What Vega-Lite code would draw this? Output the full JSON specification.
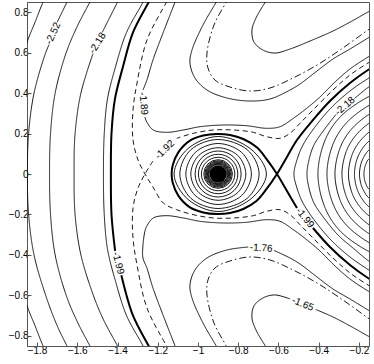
{
"$schema":"https://vega.github.io/schema/vega-lite/v6.json",
"width":342,"height":344,"autosize":"none",
"padding":{"left":27,"top":2,"right":5,"bottom":18},
"background":"white",
"config":{"view":{"stroke":"#555","strokeWidth":1},
"axis":{"grid":false,"domainColor":"#555","tickColor":"#555","labelColor":"#000","labelFont":"Liberation Sans","labelFontSize":10,"tickSize":-4,"labelPadding":3,"title":null}},
"datasets":{
"lines":[
{"k":"a1","c":"n","o":1,"x":-1.745,"y":0.9},{"k":"a1","c":"n","o":2,"x":-1.77,"y":0.85},{"k":"a1","c":"n","o":3,"x":-1.81,"y":0.75},{"k":"a1","c":"n","o":4,"x":-1.85,"y":0.65},{"k":"a1","c":"n","o":5,"x":-1.875,"y":0.55},{"k":"a1","c":"n","o":6,"x":-1.92,"y":0.3},{"k":"a1","c":"n","o":7,"x":-1.935,"y":0},{"k":"a1","c":"n","o":8,"x":-1.92,"y":-0.3},{"k":"a1","c":"n","o":9,"x":-1.875,"y":-0.55},{"k":"a1","c":"n","o":10,"x":-1.85,"y":-0.65},{"k":"a1","c":"n","o":11,"x":-1.81,"y":-0.75},{"k":"a1","c":"n","o":12,"x":-1.77,"y":-0.85},{"k":"a1","c":"n","o":13,"x":-1.745,"y":-0.9},
{"k":"a2b","c":"n","o":1,"x":-1.625,"y":0.9},{"k":"a2b","c":"n","o":2,"x":-1.651,"y":0.85},{"k":"a2b","c":"n","o":3,"x":-1.7,"y":0.75},
{"k":"a2a","c":"n","o":1,"x":-1.74,"y":0.64},{"k":"a2a","c":"n","o":2,"x":-1.757,"y":0.6},{"k":"a2a","c":"n","o":3,"x":-1.815,"y":0.4},{"k":"a2a","c":"n","o":4,"x":-1.842,"y":0.2},{"k":"a2a","c":"n","o":5,"x":-1.848,"y":0},{"k":"a2a","c":"n","o":6,"x":-1.842,"y":-0.2},{"k":"a2a","c":"n","o":7,"x":-1.815,"y":-0.4},{"k":"a2a","c":"n","o":8,"x":-1.757,"y":-0.6},{"k":"a2a","c":"n","o":9,"x":-1.7,"y":-0.75},{"k":"a2a","c":"n","o":10,"x":-1.651,"y":-0.85},{"k":"a2a","c":"n","o":11,"x":-1.625,"y":-0.9},
{"k":"a3","c":"n","o":1,"x":-1.51,"y":0.9},{"k":"a3","c":"n","o":2,"x":-1.537,"y":0.85},{"k":"a3","c":"n","o":3,"x":-1.6,"y":0.73},{"k":"a3","c":"n","o":4,"x":-1.655,"y":0.6},{"k":"a3","c":"n","o":5,"x":-1.71,"y":0.4},{"k":"a3","c":"n","o":6,"x":-1.733,"y":0.2},{"k":"a3","c":"n","o":7,"x":-1.738,"y":0},{"k":"a3","c":"n","o":8,"x":-1.733,"y":-0.2},{"k":"a3","c":"n","o":9,"x":-1.71,"y":-0.4},{"k":"a3","c":"n","o":10,"x":-1.655,"y":-0.6},{"k":"a3","c":"n","o":11,"x":-1.6,"y":-0.73},{"k":"a3","c":"n","o":12,"x":-1.537,"y":-0.85},{"k":"a3","c":"n","o":13,"x":-1.51,"y":-0.9},
{"k":"a4b","c":"n","o":1,"x":-1.375,"y":0.9},{"k":"a4b","c":"n","o":2,"x":-1.4,"y":0.85},{"k":"a4b","c":"n","o":3,"x":-1.476,"y":0.7},
{"k":"a4a","c":"n","o":1,"x":-1.522,"y":0.595},{"k":"a4a","c":"n","o":2,"x":-1.582,"y":0.4},{"k":"a4a","c":"n","o":3,"x":-1.611,"y":0.2},{"k":"a4a","c":"n","o":4,"x":-1.616,"y":0},{"k":"a4a","c":"n","o":5,"x":-1.611,"y":-0.2},{"k":"a4a","c":"n","o":6,"x":-1.582,"y":-0.4},{"k":"a4a","c":"n","o":7,"x":-1.52,"y":-0.6},{"k":"a4a","c":"n","o":8,"x":-1.47,"y":-0.72},{"k":"a4a","c":"n","o":9,"x":-1.4,"y":-0.85},{"k":"a4a","c":"n","o":10,"x":-1.375,"y":-0.9},
{"k":"a5","c":"n","o":1,"x":-1.25,"y":0.9},{"k":"a5","c":"n","o":2,"x":-1.273,"y":0.85},{"k":"a5","c":"n","o":3,"x":-1.355,"y":0.7},{"k":"a5","c":"n","o":4,"x":-1.41,"y":0.53},{"k":"a5","c":"n","o":5,"x":-1.45,"y":0.37},{"k":"a5","c":"n","o":6,"x":-1.466,"y":0.2},{"k":"a5","c":"n","o":7,"x":-1.47,"y":0},{"k":"a5","c":"n","o":8,"x":-1.466,"y":-0.2},{"k":"a5","c":"n","o":9,"x":-1.45,"y":-0.37},{"k":"a5","c":"n","o":10,"x":-1.41,"y":-0.53},{"k":"a5","c":"n","o":11,"x":-1.355,"y":-0.7},{"k":"a5","c":"n","o":12,"x":-1.273,"y":-0.85},{"k":"a5","c":"n","o":13,"x":-1.25,"y":-0.9},
{"k":"hla","c":"h","o":1,"x":-1.22,"y":0.9},{"k":"hla","c":"h","o":2,"x":-1.245,"y":0.85},{"k":"hla","c":"h","o":3,"x":-1.323,"y":0.7},{"k":"hla","c":"h","o":4,"x":-1.373,"y":0.53},{"k":"hla","c":"h","o":5,"x":-1.413,"y":0.37},{"k":"hla","c":"h","o":6,"x":-1.43,"y":0.2},{"k":"hla","c":"h","o":7,"x":-1.433,"y":0},{"k":"hla","c":"h","o":8,"x":-1.43,"y":-0.2},{"k":"hla","c":"h","o":9,"x":-1.412,"y":-0.38},
{"k":"hlb","c":"h","o":1,"x":-1.381,"y":-0.5},{"k":"hlb","c":"h","o":2,"x":-1.323,"y":-0.7},{"k":"hlb","c":"h","o":3,"x":-1.245,"y":-0.85},{"k":"hlb","c":"h","o":4,"x":-1.22,"y":-0.9},
{"k":"h1","c":"h","o":1,"x":-0.1055,"y":0.5435},{"k":"h1","c":"h","o":2,"x":-0.1552,"y":0.5138},{"k":"h1","c":"h","o":3,"x":-0.2446,"y":0.4496},{"k":"h1","c":"h","o":4,"x":-0.344,"y":0.3607},{"k":"h1","c":"h","o":5,"x":-0.4285,"y":0.2668},{"k":"h1","c":"h","o":6,"x":-0.5081,"y":0.168},{"k":"h1","c":"h","o":7,"x":-0.5578,"y":0.084},{"k":"h1","c":"h","o":8,"x":-0.6075,"y":0},{"k":"h1","c":"h","o":9,"x":-0.659,"y":-0.074},{"k":"h1","c":"h","o":10,"x":-0.708,"y":-0.132},{"k":"h1","c":"h","o":11,"x":-0.775,"y":-0.173},{"k":"h1","c":"h","o":12,"x":-0.841,"y":-0.193},{"k":"h1","c":"h","o":13,"x":-0.907,"y":-0.198},{"k":"h1","c":"h","o":14,"x":-0.974,"y":-0.19},{"k":"h1","c":"h","o":15,"x":-1.04,"y":-0.165},{"k":"h1","c":"h","o":16,"x":-1.098,"y":-0.107},{"k":"h1","c":"h","o":17,"x":-1.126,"y":-0.042},{"k":"h1","c":"h","o":18,"x":-1.131,"y":0},{"k":"h1","c":"h","o":19,"x":-1.126,"y":0.042},{"k":"h1","c":"h","o":20,"x":-1.098,"y":0.107},{"k":"h1","c":"h","o":21,"x":-1.04,"y":0.165},{"k":"h1","c":"h","o":22,"x":-0.974,"y":0.19},{"k":"h1","c":"h","o":23,"x":-0.907,"y":0.198},{"k":"h1","c":"h","o":24,"x":-0.841,"y":0.193},{"k":"h1","c":"h","o":25,"x":-0.775,"y":0.173},{"k":"h1","c":"h","o":26,"x":-0.708,"y":0.132},{"k":"h1","c":"h","o":27,"x":-0.659,"y":0.074},{"k":"h1","c":"h","o":28,"x":-0.6075,"y":0},{"k":"h1","c":"h","o":29,"x":-0.5578,"y":-0.084},{"k":"h1","c":"h","o":30,"x":-0.5081,"y":-0.168},
{"k":"h2","c":"h","o":1,"x":-0.4285,"y":-0.2668},{"k":"h2","c":"h","o":2,"x":-0.344,"y":-0.3607},{"k":"h2","c":"h","o":3,"x":-0.2446,"y":-0.4496},{"k":"h2","c":"h","o":4,"x":-0.1552,"y":-0.5138},{"k":"h2","c":"h","o":5,"x":-0.1055,"y":-0.5435},
{"k":"da1","c":"d","o":1,"x":-0.1055,"y":0.578},{"k":"da1","c":"d","o":2,"x":-0.1552,"y":0.5484},{"k":"da1","c":"d","o":3,"x":-0.2446,"y":0.4891},{"k":"da1","c":"d","o":4,"x":-0.3291,"y":0.415},{"k":"da1","c":"d","o":5,"x":-0.4285,"y":0.3162},{"k":"da1","c":"d","o":6,"x":-0.4931,"y":0.2505},{"k":"da1","c":"d","o":7,"x":-0.5428,"y":0.2011},{"k":"da1","c":"d","o":8,"x":-0.5925,"y":0.1764},{"k":"da1","c":"d","o":9,"x":-0.6587,"y":0.1843},{"k":"da1","c":"d","o":10,"x":-0.7252,"y":0.206},{"k":"da1","c":"d","o":11,"x":-0.8247,"y":0.2174},{"k":"da1","c":"d","o":12,"x":-0.924,"y":0.2174},{"k":"da1","c":"d","o":13,"x":-1.0235,"y":0.2011},{"k":"da1","c":"d","o":14,"x":-1.106,"y":0.1764},
{"k":"da2","c":"d","o":1,"x":-1.224,"y":0.064},{"k":"da2","c":"d","o":2,"x":-1.2635,"y":0},{"k":"da2","c":"d","o":3,"x":-1.298,"y":-0.069},{"k":"da2","c":"d","o":4,"x":-1.323,"y":-0.168},{"k":"da2","c":"d","o":5,"x":-1.323,"y":-0.316},{"k":"da2","c":"d","o":6,"x":-1.303,"y":-0.45},{"k":"da2","c":"d","o":7,"x":-1.2536,"y":-0.662},{"k":"da2","c":"d","o":8,"x":-1.159,"y":-0.845},{"k":"da2","c":"d","o":9,"x":-1.14,"y":-0.88},
{"k":"db","c":"d","o":1,"x":-0.1055,"y":-0.578},{"k":"db","c":"d","o":2,"x":-0.1552,"y":-0.5484},{"k":"db","c":"d","o":3,"x":-0.2446,"y":-0.4891},{"k":"db","c":"d","o":4,"x":-0.3291,"y":-0.415},{"k":"db","c":"d","o":5,"x":-0.4285,"y":-0.3162},{"k":"db","c":"d","o":6,"x":-0.4931,"y":-0.2505},{"k":"db","c":"d","o":7,"x":-0.5428,"y":-0.2011},{"k":"db","c":"d","o":8,"x":-0.5925,"y":-0.1764},{"k":"db","c":"d","o":9,"x":-0.6587,"y":-0.1843},{"k":"db","c":"d","o":10,"x":-0.7252,"y":-0.206},{"k":"db","c":"d","o":11,"x":-0.8247,"y":-0.2174},{"k":"db","c":"d","o":12,"x":-0.924,"y":-0.2174},{"k":"db","c":"d","o":13,"x":-1.0235,"y":-0.2011},{"k":"db","c":"d","o":14,"x":-1.106,"y":-0.1764},{"k":"db","c":"d","o":15,"x":-1.1726,"y":-0.1433},{"k":"db","c":"d","o":16,"x":-1.224,"y":-0.064},{"k":"db","c":"d","o":17,"x":-1.2635,"y":0},{"k":"db","c":"d","o":18,"x":-1.298,"y":0.069},{"k":"db","c":"d","o":19,"x":-1.323,"y":0.168},{"k":"db","c":"d","o":20,"x":-1.323,"y":0.316},{"k":"db","c":"d","o":21,"x":-1.303,"y":0.45},{"k":"db","c":"d","o":22,"x":-1.2536,"y":0.662},{"k":"db","c":"d","o":23,"x":-1.159,"y":0.845},{"k":"db","c":"d","o":24,"x":-1.14,"y":0.88},
{"k":"s89a","c":"n","o":1,"x":-1.103,"y":0.88},{"k":"s89a","c":"n","o":2,"x":-1.114,"y":0.85},{"k":"s89a","c":"n","o":3,"x":-1.174,"y":0.6966},{"k":"s89a","c":"n","o":4,"x":-1.224,"y":0.5632},{"k":"s89a","c":"n","o":5,"x":-1.254,"y":0.4644},{"k":"s89a","c":"n","o":6,"x":-1.2735,"y":0.415},
{"k":"s89b","c":"n","o":1,"x":-1.2635,"y":0.2816},{"k":"s89b","c":"n","o":2,"x":-1.2551,"y":0.2584},{"k":"s89b","c":"n","o":3,"x":-1.2223,"y":0.2174},{"k":"s89b","c":"n","o":4,"x":-1.1557,"y":0.206},{"k":"s89b","c":"n","o":5,"x":-1.0732,"y":0.2174},{"k":"s89b","c":"n","o":6,"x":-0.9902,"y":0.2337},{"k":"s89b","c":"n","o":7,"x":-0.8744,"y":0.2421},{"k":"s89b","c":"n","o":8,"x":-0.7581,"y":0.2386},{"k":"s89b","c":"n","o":9,"x":-0.6587,"y":0.2258},{"k":"s89b","c":"n","o":10,"x":-0.5925,"y":0.2337},{"k":"s89b","c":"n","o":11,"x":-0.5264,"y":0.275},{"k":"s89b","c":"n","o":12,"x":-0.4598,"y":0.3246},{"k":"s89b","c":"n","o":13,"x":-0.3937,"y":0.3804},{"k":"s89b","c":"n","o":14,"x":-0.3192,"y":0.4545},{"k":"s89b","c":"n","o":15,"x":-0.2446,"y":0.5188},{"k":"s89b","c":"n","o":16,"x":-0.1552,"y":0.578},{"k":"s89b","c":"n","o":17,"x":-0.1055,"y":0.6077},
{"k":"s89l","c":"n","o":1,"x":-1.103,"y":-0.88},{"k":"s89l","c":"n","o":2,"x":-1.114,"y":-0.85},{"k":"s89l","c":"n","o":3,"x":-1.174,"y":-0.6966},{"k":"s89l","c":"n","o":4,"x":-1.224,"y":-0.5632},{"k":"s89l","c":"n","o":5,"x":-1.254,"y":-0.4644},{"k":"s89l","c":"n","o":6,"x":-1.2735,"y":-0.415},{"k":"s89l","c":"n","o":7,"x":-1.2735,"y":-0.35},{"k":"s89l","c":"n","o":8,"x":-1.2635,"y":-0.2816},{"k":"s89l","c":"n","o":9,"x":-1.2551,"y":-0.2584},{"k":"s89l","c":"n","o":10,"x":-1.2223,"y":-0.2174},{"k":"s89l","c":"n","o":11,"x":-1.1557,"y":-0.206},{"k":"s89l","c":"n","o":12,"x":-1.0732,"y":-0.2174},{"k":"s89l","c":"n","o":13,"x":-0.9902,"y":-0.2337},{"k":"s89l","c":"n","o":14,"x":-0.8744,"y":-0.2421},{"k":"s89l","c":"n","o":15,"x":-0.7581,"y":-0.2386},{"k":"s89l","c":"n","o":16,"x":-0.6587,"y":-0.2258},{"k":"s89l","c":"n","o":17,"x":-0.5925,"y":-0.2337},{"k":"s89l","c":"n","o":18,"x":-0.5264,"y":-0.275},{"k":"s89l","c":"n","o":19,"x":-0.4598,"y":-0.3246},{"k":"s89l","c":"n","o":20,"x":-0.3937,"y":-0.3804},{"k":"s89l","c":"n","o":21,"x":-0.3192,"y":-0.4545},{"k":"s89l","c":"n","o":22,"x":-0.2446,"y":-0.5188},{"k":"s89l","c":"n","o":23,"x":-0.1552,"y":-0.578},{"k":"s89l","c":"n","o":24,"x":-0.1055,"y":-0.6077},
{"k":"ou","c":"n","o":1,"x":-0.8957,"y":0.875},{"k":"ou","c":"n","o":2,"x":-0.9107,"y":0.8473},{"k":"ou","c":"n","o":3,"x":-0.9752,"y":0.7362},{"k":"ou","c":"n","o":4,"x":-1.0299,"y":0.6126},{"k":"ou","c":"n","o":5,"x":-1.0399,"y":0.5484},{"k":"ou","c":"n","o":6,"x":-1.015,"y":0.4743},{"k":"ou","c":"n","o":7,"x":-0.9554,"y":0.415},{"k":"ou","c":"n","o":8,"x":-0.856,"y":0.3755},{"k":"ou","c":"n","o":9,"x":-0.7417,"y":0.3607},{"k":"ou","c":"n","o":10,"x":-0.6422,"y":0.3706},{"k":"ou","c":"n","o":11,"x":-0.5428,"y":0.415},{"k":"ou","c":"n","o":12,"x":-0.4931,"y":0.4447},{"k":"ou","c":"n","o":13,"x":-0.4086,"y":0.5089},{"k":"ou","c":"n","o":14,"x":-0.3291,"y":0.5682},{"k":"ou","c":"n","o":15,"x":-0.2446,"y":0.6176},{"k":"ou","c":"n","o":16,"x":-0.1552,"y":0.6719},{"k":"ou","c":"n","o":17,"x":-0.1055,"y":0.7016},
{"k":"m76a","c":"n","o":1,"x":-0.8957,"y":-0.875},{"k":"m76a","c":"n","o":2,"x":-0.9107,"y":-0.8473},{"k":"m76a","c":"n","o":3,"x":-0.9752,"y":-0.7362},{"k":"m76a","c":"n","o":4,"x":-1.0299,"y":-0.6126},{"k":"m76a","c":"n","o":5,"x":-1.0399,"y":-0.5484},{"k":"m76a","c":"n","o":6,"x":-1.015,"y":-0.4743},{"k":"m76a","c":"n","o":7,"x":-0.9554,"y":-0.415},{"k":"m76a","c":"n","o":8,"x":-0.856,"y":-0.3755},{"k":"m76a","c":"n","o":9,"x":-0.75,"y":-0.3608},
{"k":"m76b","c":"n","o":1,"x":-0.622,"y":-0.378},{"k":"m76b","c":"n","o":2,"x":-0.5428,"y":-0.415},{"k":"m76b","c":"n","o":3,"x":-0.4931,"y":-0.4447},{"k":"m76b","c":"n","o":4,"x":-0.4086,"y":-0.5089},{"k":"m76b","c":"n","o":5,"x":-0.3291,"y":-0.5682},{"k":"m76b","c":"n","o":6,"x":-0.2446,"y":-0.6176},{"k":"m76b","c":"n","o":7,"x":-0.1552,"y":-0.6719},{"k":"m76b","c":"n","o":8,"x":-0.1055,"y":-0.7016},
{"k":"ddt","c":"dd","o":1,"x":-0.8475,"y":0.8745},{"k":"ddt","c":"dd","o":2,"x":-0.861,"y":0.8473},{"k":"ddt","c":"dd","o":3,"x":-0.9206,"y":0.7362},{"k":"ddt","c":"dd","o":4,"x":-0.9554,"y":0.5978},{"k":"ddt","c":"dd","o":5,"x":-0.9504,"y":0.5237},{"k":"ddt","c":"dd","o":6,"x":-0.9156,"y":0.4644},{"k":"ddt","c":"dd","o":7,"x":-0.841,"y":0.4298},{"k":"ddt","c":"dd","o":8,"x":-0.7417,"y":0.4101},{"k":"ddt","c":"dd","o":9,"x":-0.6422,"y":0.4249},{"k":"ddt","c":"dd","o":10,"x":-0.5279,"y":0.4743},{"k":"ddt","c":"dd","o":11,"x":-0.4086,"y":0.5385},{"k":"ddt","c":"dd","o":12,"x":-0.2943,"y":0.6126},{"k":"ddt","c":"dd","o":13,"x":-0.1552,"y":0.7115},{"k":"ddt","c":"dd","o":14,"x":-0.1055,"y":0.746},
{"k":"ddb","c":"dd","o":1,"x":-0.8475,"y":-0.8745},{"k":"ddb","c":"dd","o":2,"x":-0.861,"y":-0.8473},{"k":"ddb","c":"dd","o":3,"x":-0.9206,"y":-0.7362},{"k":"ddb","c":"dd","o":4,"x":-0.9554,"y":-0.5978},{"k":"ddb","c":"dd","o":5,"x":-0.9504,"y":-0.5237},{"k":"ddb","c":"dd","o":6,"x":-0.9156,"y":-0.4644},{"k":"ddb","c":"dd","o":7,"x":-0.841,"y":-0.4298},{"k":"ddb","c":"dd","o":8,"x":-0.7417,"y":-0.4101},{"k":"ddb","c":"dd","o":9,"x":-0.6422,"y":-0.4249},{"k":"ddb","c":"dd","o":10,"x":-0.5279,"y":-0.4743},{"k":"ddb","c":"dd","o":11,"x":-0.4086,"y":-0.5385},{"k":"ddb","c":"dd","o":12,"x":-0.2943,"y":-0.6126},{"k":"ddb","c":"dd","o":13,"x":-0.1552,"y":-0.7115},{"k":"ddb","c":"dd","o":14,"x":-0.1055,"y":-0.746},
{"k":"iu","c":"n","o":1,"x":-0.6512,"y":0.8745},{"k":"iu","c":"n","o":2,"x":-0.6671,"y":0.8473},{"k":"iu","c":"n","o":3,"x":-0.7118,"y":0.7708},{"k":"iu","c":"n","o":4,"x":-0.7317,"y":0.7115},{"k":"iu","c":"n","o":5,"x":-0.7218,"y":0.6522},{"k":"iu","c":"n","o":6,"x":-0.677,"y":0.6126},{"k":"iu","c":"n","o":7,"x":-0.6174,"y":0.5978},{"k":"iu","c":"n","o":8,"x":-0.5428,"y":0.6176},{"k":"iu","c":"n","o":9,"x":-0.4434,"y":0.6571},{"k":"iu","c":"n","o":10,"x":-0.3291,"y":0.7065},{"k":"iu","c":"n","o":11,"x":-0.2347,"y":0.7559},{"k":"iu","c":"n","o":12,"x":-0.1552,"y":0.8004},{"k":"iu","c":"n","o":13,"x":-0.1055,"y":0.8251},
{"k":"m65a","c":"n","o":1,"x":-0.6512,"y":-0.8745},{"k":"m65a","c":"n","o":2,"x":-0.6671,"y":-0.8473},{"k":"m65a","c":"n","o":3,"x":-0.7118,"y":-0.7708},{"k":"m65a","c":"n","o":4,"x":-0.7317,"y":-0.7115},{"k":"m65a","c":"n","o":5,"x":-0.7218,"y":-0.6522},{"k":"m65a","c":"n","o":6,"x":-0.677,"y":-0.6126},{"k":"m65a","c":"n","o":7,"x":-0.6174,"y":-0.5978},{"k":"m65a","c":"n","o":8,"x":-0.5428,"y":-0.6176},
{"k":"m65b","c":"n","o":1,"x":-0.415,"y":-0.6694},{"k":"m65b","c":"n","o":2,"x":-0.3291,"y":-0.7065},{"k":"m65b","c":"n","o":3,"x":-0.2347,"y":-0.7559},{"k":"m65b","c":"n","o":4,"x":-0.1552,"y":-0.8004},{"k":"m65b","c":"n","o":5,"x":-0.1055,"y":-0.8251},
{"k":"r1","c":"n","o":1,"x":-0.0955,"y":0.5089},{"k":"r1","c":"n","o":2,"x":-0.1552,"y":0.4718},{"k":"r1","c":"n","o":3,"x":-0.2446,"y":0.4101},{"k":"r1","c":"n","o":4,"x":-0.3391,"y":0.3261},{"k":"r1","c":"n","o":5,"x":-0.4186,"y":0.2322},{"k":"r1","c":"n","o":6,"x":-0.4782,"y":0.1433},{"k":"r1","c":"n","o":7,"x":-0.5081,"y":0.0692},{"k":"r1","c":"n","o":8,"x":-0.523,"y":0},{"k":"r1","c":"n","o":9,"x":-0.5081,"y":-0.0692},{"k":"r1","c":"n","o":10,"x":-0.4782,"y":-0.1433},{"k":"r1","c":"n","o":11,"x":-0.4186,"y":-0.2322},{"k":"r1","c":"n","o":12,"x":-0.3391,"y":-0.3261},{"k":"r1","c":"n","o":13,"x":-0.2446,"y":-0.4101},{"k":"r1","c":"n","o":14,"x":-0.1552,"y":-0.4718},{"k":"r1","c":"n","o":15,"x":-0.0955,"y":-0.5089},
{"k":"r2b","c":"n","o":1,"x":-0.0955,"y":0.4669},{"k":"r2b","c":"n","o":2,"x":-0.1552,"y":0.4274},{"k":"r2b","c":"n","o":3,"x":-0.2223,"y":0.373},
{"k":"r2a","c":"n","o":1,"x":-0.3142,"y":0.294},{"k":"r2a","c":"n","o":2,"x":-0.3739,"y":0.2174},{"k":"r2a","c":"n","o":3,"x":-0.4236,"y":0.1433},{"k":"r2a","c":"n","o":4,"x":-0.4484,"y":0.0692},{"k":"r2a","c":"n","o":5,"x":-0.4583,"y":0},{"k":"r2a","c":"n","o":6,"x":-0.4484,"y":-0.0692},{"k":"r2a","c":"n","o":7,"x":-0.4236,"y":-0.1433},{"k":"r2a","c":"n","o":8,"x":-0.3739,"y":-0.2174},{"k":"r2a","c":"n","o":9,"x":-0.3043,"y":-0.3014},{"k":"r2a","c":"n","o":10,"x":-0.2297,"y":-0.3656},{"k":"r2a","c":"n","o":11,"x":-0.1552,"y":-0.4274},{"k":"r2a","c":"n","o":12,"x":-0.0955,"y":-0.4669},
{"k":"r3","c":"n","o":1,"x":-0.0955,"y":0.4016},{"k":"r3","c":"n","o":2,"x":-0.1552,"y":0.3804},{"k":"r3","c":"n","o":3,"x":-0.2899,"y":0.2853},{"k":"r3","c":"n","o":4,"x":-0.3666,"y":0.1712},{"k":"r3","c":"n","o":5,"x":-0.4037,"y":0},{"k":"r3","c":"n","o":6,"x":-0.3666,"y":-0.1712},{"k":"r3","c":"n","o":7,"x":-0.2899,"y":-0.2853},{"k":"r3","c":"n","o":8,"x":-0.1552,"y":-0.3804},{"k":"r3","c":"n","o":9,"x":-0.0955,"y":-0.4016},
{"k":"r4","c":"n","o":1,"x":-0.0955,"y":0.3611},{"k":"r4","c":"n","o":2,"x":-0.1552,"y":0.336},{"k":"r4","c":"n","o":3,"x":-0.2628,"y":0.252},{"k":"r4","c":"n","o":4,"x":-0.3274,"y":0.1512},{"k":"r4","c":"n","o":5,"x":-0.359,"y":0},{"k":"r4","c":"n","o":6,"x":-0.3274,"y":-0.1512},{"k":"r4","c":"n","o":7,"x":-0.2628,"y":-0.252},{"k":"r4","c":"n","o":8,"x":-0.1552,"y":-0.336},{"k":"r4","c":"n","o":9,"x":-0.0955,"y":-0.3611},
{"k":"r5","c":"n","o":1,"x":-0.0955,"y":0.3205},{"k":"r5","c":"n","o":2,"x":-0.1552,"y":0.2915},{"k":"r5","c":"n","o":3,"x":-0.2397,"y":0.2186},{"k":"r5","c":"n","o":4,"x":-0.2929,"y":0.1312},{"k":"r5","c":"n","o":5,"x":-0.3192,"y":0},{"k":"r5","c":"n","o":6,"x":-0.2929,"y":-0.1312},{"k":"r5","c":"n","o":7,"x":-0.2397,"y":-0.2186},{"k":"r5","c":"n","o":8,"x":-0.1552,"y":-0.2915},{"k":"r5","c":"n","o":9,"x":-0.0955,"y":-0.3205},
{"k":"r6","c":"n","o":1,"x":-0.0955,"y":0.2794},{"k":"r6","c":"n","o":2,"x":-0.1552,"y":0.247},{"k":"r6","c":"n","o":3,"x":-0.2204,"y":0.1853},{"k":"r6","c":"n","o":4,"x":-0.2631,"y":0.1112},{"k":"r6","c":"n","o":5,"x":-0.2844,"y":0},{"k":"r6","c":"n","o":6,"x":-0.2631,"y":-0.1112},{"k":"r6","c":"n","o":7,"x":-0.2204,"y":-0.1853},{"k":"r6","c":"n","o":8,"x":-0.1552,"y":-0.247},{"k":"r6","c":"n","o":9,"x":-0.0955,"y":-0.2794},
{"k":"r7","c":"n","o":1,"x":-0.0955,"y":0.2389},{"k":"r7","c":"n","o":2,"x":-0.1552,"y":0.2026},{"k":"r7","c":"n","o":3,"x":-0.203,"y":0.1519},{"k":"r7","c":"n","o":4,"x":-0.2355,"y":0.0912},{"k":"r7","c":"n","o":5,"x":-0.2521,"y":0},{"k":"r7","c":"n","o":6,"x":-0.2355,"y":-0.0912},{"k":"r7","c":"n","o":7,"x":-0.203,"y":-0.1519},{"k":"r7","c":"n","o":8,"x":-0.1552,"y":-0.2026},{"k":"r7","c":"n","o":9,"x":-0.0955,"y":-0.2389},
{"k":"r8","c":"n","o":1,"x":-0.0955,"y":0.1994},{"k":"r8","c":"n","o":2,"x":-0.1552,"y":0.1581},{"k":"r8","c":"n","o":3,"x":-0.1875,"y":0.1186},{"k":"r8","c":"n","o":4,"x":-0.2104,"y":0.0711},{"k":"r8","c":"n","o":5,"x":-0.2223,"y":0},{"k":"r8","c":"n","o":6,"x":-0.2104,"y":-0.0711},{"k":"r8","c":"n","o":7,"x":-0.1875,"y":-0.1186},{"k":"r8","c":"n","o":8,"x":-0.1552,"y":-0.1581},{"k":"r8","c":"n","o":9,"x":-0.0955,"y":-0.1994},
{"k":"r9","c":"n","o":1,"x":-0.0955,"y":0.1585},{"k":"r9","c":"n","o":2,"x":-0.1552,"y":0.1136},{"k":"r9","c":"n","o":3,"x":-0.1751,"y":0.0852},{"k":"r9","c":"n","o":4,"x":-0.1897,"y":0.0511},{"k":"r9","c":"n","o":5,"x":-0.1974,"y":0},{"k":"r9","c":"n","o":6,"x":-0.1897,"y":-0.0511},{"k":"r9","c":"n","o":7,"x":-0.1751,"y":-0.0852},{"k":"r9","c":"n","o":8,"x":-0.1552,"y":-0.1136},{"k":"r9","c":"n","o":9,"x":-0.0955,"y":-0.1585},
{"k":"r10","c":"n","o":1,"x":-0.0955,"y":0.1202},{"k":"r10","c":"n","o":2,"x":-0.1552,"y":0.0692},{"k":"r10","c":"n","o":3,"x":-0.1643,"y":0.0519},{"k":"r10","c":"n","o":4,"x":-0.1713,"y":0.0311},{"k":"r10","c":"n","o":5,"x":-0.1751,"y":0},{"k":"r10","c":"n","o":6,"x":-0.1713,"y":-0.0311},{"k":"r10","c":"n","o":7,"x":-0.1643,"y":-0.0519},{"k":"r10","c":"n","o":8,"x":-0.1552,"y":-0.0692},{"k":"r10","c":"n","o":9,"x":-0.0955,"y":-0.1202}
],
"rings":[
{"k":"q1","o":1,"x":-0.66,"y":0},{"k":"q1","o":2,"x":-0.741,"y":0.126},{"k":"q1","o":3,"x":-0.9,"y":0.1853},{"k":"q1","o":4,"x":-1.0491,"y":0.126},{"k":"q1","o":5,"x":-1.1187,"y":0},{"k":"q1","o":6,"x":-1.0491,"y":-0.126},{"k":"q1","o":7,"x":-0.9,"y":-0.1853},{"k":"q1","o":8,"x":-0.741,"y":-0.126},
{"k":"q2","o":1,"x":-0.6962,"y":0},{"k":"q2","o":2,"x":-0.7559,"y":0.1206},{"k":"q2","o":3,"x":-0.9,"y":0.1705},{"k":"q2","o":4,"x":-1.0347,"y":0.1206},{"k":"q2","o":5,"x":-1.0904,"y":0},{"k":"q2","o":6,"x":-1.0347,"y":-0.1206},{"k":"q2","o":7,"x":-0.9,"y":-0.1705},{"k":"q2","o":8,"x":-0.7559,"y":-0.1206},
{"k":"q3","o":1,"x":-0.7345,"y":0},{"k":"q3","o":2,"x":-0.7832,"y":0.1067},{"k":"q3","o":3,"x":-0.9,"y":0.1507},{"k":"q3","o":4,"x":-1.0133,"y":0.1067},{"k":"q3","o":5,"x":-1.0605,"y":0},{"k":"q3","o":6,"x":-1.0133,"y":-0.1067},{"k":"q3","o":7,"x":-0.9,"y":-0.1507},{"k":"q3","o":8,"x":-0.7832,"y":-0.1067},
{"k":"q4","o":1,"x":-0.7623,"y":0},{"k":"q4","o":2,"x":-0.8026,"y":0.0919},{"k":"q4","o":3,"x":-0.9,"y":0.1299},{"k":"q4","o":4,"x":-0.9959,"y":0.0919},{"k":"q4","o":5,"x":-1.0357,"y":0},{"k":"q4","o":6,"x":-0.9959,"y":-0.0919},{"k":"q4","o":7,"x":-0.9,"y":-0.1299},{"k":"q4","o":8,"x":-0.8026,"y":-0.0919}
],
"circles":[
{"x":-0.9,"y":0,"r":0.114},{"x":-0.9,"y":0,"r":0.0976},{"x":-0.9,"y":0,"r":0.0828},{"x":-0.9,"y":0,"r":0.0709},{"x":-0.9,"y":0,"r":0.0655},{"x":-0.9,"y":0,"r":0.061},{"x":-0.9,"y":0,"r":0.057},{"x":-0.9,"y":0,"r":0.053},{"x":-0.9,"y":0,"r":0.0495},{"x":-0.9,"y":0,"r":0.0461}
],
"core":[{"x":-0.9,"y":0,"r":0.043}],
"labels":[
{"t":"-2.52","x":-1.72,"y":0.695,"a":-65},
{"t":"-2.18","x":-1.499,"y":0.647,"a":-58},
{"t":"-1.89","x":-1.271,"y":0.348,"a":84},
{"t":"-1.92","x":-1.165,"y":0.12,"a":-44},
{"t":"-1.99","x":-1.397,"y":-0.44,"a":76},
{"t":"-2.18","x":-0.2695,"y":0.336,"a":-41},
{"t":"-1.99","x":-0.468,"y":-0.217,"a":51},
{"t":"-1.76","x":-0.686,"y":-0.366,"a":4},
{"t":"-1.65","x":-0.479,"y":-0.643,"a":22}
]
},
"encoding":{
"x":{"field":"x","type":"quantitative","scale":{"domain":[-1.85,-0.15],"nice":false,"zero":false},"axis":{"values":[-1.8,-1.6,-1.4,-1.2,-1,-0.8,-0.6,-0.4,-0.2],"format":"~g"}},
"y":{"field":"y","type":"quantitative","scale":{"domain":[-0.85,0.85],"nice":false,"zero":false},"axis":{"values":[-0.8,-0.6,-0.4,-0.2,0,0.2,0.4,0.6,0.8],"format":"~g"}}
},
"layer":[
{"data":{"name":"lines"},"transform":[{"filter":"datum.c != 'h'"}],"mark":{"type":"line","interpolate":"catmull-rom","clip":true,"stroke":"black","strokeWidth":0.9},
"encoding":{"detail":{"field":"k"},"order":{"field":"o","type":"quantitative"},
"strokeDash":{"field":"c","type":"nominal","scale":{"domain":["n","d","dd"],"range":[[1,0],[5,3.5],[7,3,1.5,3]]},"legend":null}}},
{"data":{"name":"lines"},"transform":[{"filter":"datum.c == 'h'"}],"mark":{"type":"line","interpolate":"catmull-rom","clip":true,"stroke":"black","strokeWidth":2},
"encoding":{"detail":{"field":"k"},"order":{"field":"o","type":"quantitative"}}},
{"data":{"name":"rings"},"mark":{"type":"line","interpolate":"cardinal-closed","clip":true,"stroke":"black","strokeWidth":0.9},
"encoding":{"detail":{"field":"k"},"order":{"field":"o","type":"quantitative"}}},
{"data":{"name":"circles"},"mark":{"type":"point","shape":"circle","filled":false,"stroke":"black","strokeWidth":0.9,"opacity":1},
"encoding":{"size":{"field":"r","type":"quantitative","scale":{"type":"pow","exponent":2,"domain":[0,0.25],"range":[0,10181],"zero":true},"legend":null}}},
{"data":{"name":"core"},"mark":{"type":"point","shape":"circle","filled":true,"fill":"black","opacity":1},
"encoding":{"size":{"field":"r","type":"quantitative","scale":{"type":"pow","exponent":2,"domain":[0,0.25],"range":[0,10181],"zero":true},"legend":null}}},
{"data":{"name":"labels"},"mark":{"type":"text","font":"Liberation Sans","fontSize":10,"fill":"black","align":"center","baseline":"middle"},
"encoding":{"text":{"field":"t"},"angle":{"field":"a","type":"quantitative","scale":null}}}
]
}
